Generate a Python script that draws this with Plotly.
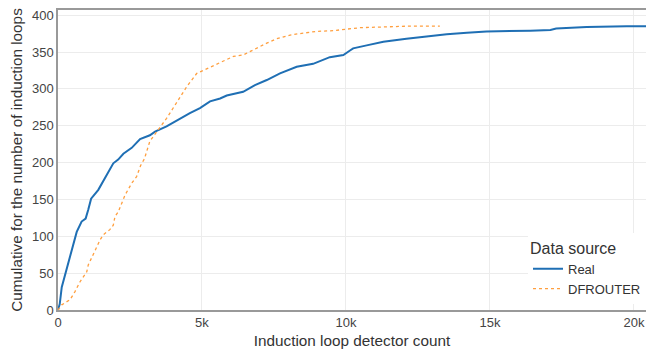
import plotly.graph_objects as go

# Real detector counts (x) and cumulative number of induction loops (y)
real_x = [0, 60, 130, 360, 650, 820, 960, 1050, 1150, 1400, 1750, 1920, 2090, 2270, 2560, 2850,
          3190, 3370, 3770, 4240, 4580, 4930, 5280, 5630, 5860, 6430, 6840, 7250, 7710, 8290,
          8860, 9440, 9910, 10140, 10250, 10720, 11300, 12100, 12700, 13500, 14200, 14650,
          14880, 16400, 17100, 17300, 18360, 19750, 20100, 20420]
real_y = [0, 8, 31, 63, 106, 120, 124, 136, 151, 163, 187, 199, 204, 212, 220, 232,
          237, 242, 249, 260, 267, 274, 283, 287, 291, 296, 305, 312, 321, 330,
          334, 343, 346, 352, 355, 359, 364, 368, 371, 374, 376, 377,
          378, 379, 380, 382, 384, 385, 385, 385]

# DFROUTER detector counts (x) and cumulative number of induction loops (y)
dfr_x = [0, 130, 420, 590, 760, 1000, 1050, 1230, 1460, 1570, 1800, 1920, 1980, 2090, 2210,
         2330, 2560, 2730, 2870, 3000, 3190, 3480, 3770, 4180, 4470, 4820, 5050, 5280, 5630,
         6090, 6430, 6780, 7250, 7600, 8060, 8400, 8980, 9560, 10140, 10490, 11300, 12100, 13260]
dfr_y = [0, 7, 14, 25, 38, 52, 61, 77, 95, 102, 109, 115, 127, 133, 145,
         156, 172, 181, 196, 205, 229, 244, 260, 285, 303, 321, 325, 330, 335,
         344, 346, 353, 362, 368, 373, 375, 378, 379, 381, 383, 384, 385, 385]

series_names = ["Real", "DFROUTER"]
x_ticks = [0, 5000, 10000, 15000, 20000]
x_tick_labels = ["0", "5k", "10k", "15k", "20k"]
y_ticks = [0, 50, 100, 150, 200, 250, 300, 350, 400]

fig = go.Figure()
fig.add_trace(go.Scatter(x=real_x, y=real_y, mode="lines", name=series_names[0],
                         line=dict(color="#1f6fb4", width=2, shape="linear")))
fig.add_trace(go.Scatter(x=dfr_x, y=dfr_y, mode="lines", name=series_names[1],
                         line=dict(color="#ff9f3f", width=1.3, dash="dot", shape="linear")))

font_family = "Liberation Sans, Arial, sans-serif"
fig.update_layout(
    width=646, height=356,
    margin=dict(l=58, r=0, t=10, b=46),
    paper_bgcolor="white", plot_bgcolor="white",
    font=dict(family=font_family, color="#444444", size=13),
    showlegend=True,
    legend=dict(
        title=dict(text="Data source", font=dict(size=16, color="#333333")),
        font=dict(size=13, color="#333333"),
        x=1, xanchor="right", y=0.02, yanchor="bottom",
        bgcolor="white", borderwidth=0,
        tracegroupgap=0, itemwidth=30,
    ),
    xaxis=dict(
        range=[0, 20420], tickvals=x_ticks, ticktext=x_tick_labels,
        showgrid=True, gridcolor="#ececec", gridwidth=1,
        showline=True, linecolor="#999999", linewidth=1.5, mirror=True,
        zeroline=False, ticks="", tickfont=dict(size=13, color="#444444"),
        title=dict(text="Induction loop detector count", font=dict(size=15.3, color="#333333"), standoff=6),
    ),
    yaxis=dict(
        range=[0, 407], tickvals=y_ticks,
        showgrid=True, gridcolor="#ececec", gridwidth=1,
        showline=True, linecolor="#999999", linewidth=1.5,
        zeroline=False, ticks="", tickfont=dict(size=13, color="#444444"),
        title=dict(text="Cumulative for the number of induction loops", font=dict(size=15.3, color="#333333"), standoff=6),
    ),
)

fig.write_html("out.html")
